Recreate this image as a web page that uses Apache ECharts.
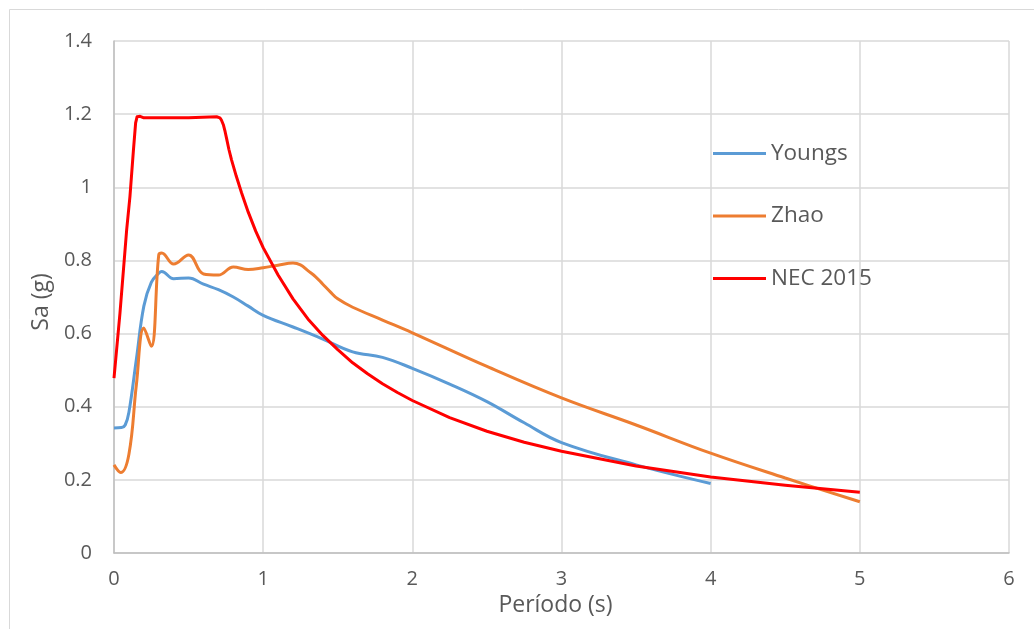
<!DOCTYPE html>
<html>
<head>
<meta charset="utf-8">
<script src="https://cdn.jsdelivr.net/npm/echarts@6/dist/echarts.min.js"></script>
<style>html,body{margin:0;padding:0;background:#fff}#c{width:1034px;height:629px}</style>
</head>
<body>
<div id="c"></div>
<script>
var xTicks = [0, 1, 2, 3, 4, 5, 6];
var yTicks = [0, 0.2, 0.4, 0.6, 0.8, 1, 1.2, 1.4];

var youngsT  = [0, 0.05, 0.075, 0.1, 0.15, 0.2, 0.25, 0.3, 0.32, 0.4, 0.5, 0.6, 0.7, 0.8, 0.9, 1.0, 1.2, 1.4, 1.6, 1.8, 2.0, 2.25, 2.5, 2.75, 3.0, 3.5, 4.0];
var youngsSa = [0.342, 0.343, 0.35, 0.385, 0.53, 0.675, 0.74, 0.765, 0.77, 0.75, 0.752, 0.735, 0.72, 0.70, 0.675, 0.65, 0.618, 0.585, 0.55, 0.535, 0.505, 0.462, 0.414, 0.356, 0.302, 0.241, 0.19];

var zhaoT  = [0, 0.045, 0.1, 0.15, 0.2, 0.25, 0.3, 0.32, 0.4, 0.5, 0.6, 0.7, 0.8, 0.9, 1.0, 1.1, 1.2, 1.25, 1.3, 1.35, 1.4, 1.45, 1.5, 1.6, 1.8, 2.0, 2.5, 3.0, 3.5, 4.0, 4.5, 5.0];
var zhaoSa = [0.241, 0.22, 0.27, 0.46, 0.615, 0.565, 0.815, 0.82, 0.79, 0.815, 0.763, 0.76, 0.782, 0.775, 0.78, 0.787, 0.793, 0.788, 0.772, 0.756, 0.735, 0.714, 0.695, 0.672, 0.637, 0.602, 0.51, 0.424, 0.35, 0.273, 0.205, 0.14];

var necT  = [0, 0.04, 0.085, 0.107, 0.13, 0.145, 0.155, 0.163, 0.175, 0.2, 0.3, 0.5, 0.688, 0.71, 0.72, 0.733, 0.745, 0.755, 0.77, 0.788, 0.82, 0.855, 0.9, 0.95, 1.0, 1.1, 1.2, 1.3, 1.4, 1.5, 1.6, 1.7, 1.8, 1.9, 2.0, 2.25, 2.5, 2.75, 3.0, 3.5, 4.0, 4.5, 5.0];
var necSa = [0.478, 0.656, 0.884, 0.975, 1.10, 1.176, 1.193, 1.198, 1.194, 1.19, 1.19, 1.19, 1.193, 1.19, 1.184, 1.171, 1.152, 1.133, 1.104, 1.075, 1.03, 0.985, 0.932, 0.88, 0.835, 0.76, 0.695, 0.64, 0.595, 0.556, 0.52, 0.49, 0.463, 0.439, 0.417, 0.37, 0.333, 0.303, 0.278, 0.238, 0.208, 0.185, 0.166];

function zip(a, b) { return a.map(function (v, i) { return [v, b[i]]; }); }

var font = '"Open Sans", Lato, sans-serif';
var chart = echarts.init(document.getElementById('c'), null, { renderer: 'canvas' });
chart.setOption({
  animation: false,
  backgroundColor: '#fff',
  graphic: [{
    type: 'rect', left: 7, top: 7, shape: { width: 1040, height: 640 },
    style: { fill: 'none', stroke: '#d9d9d9', lineWidth: 1 }, silent: true
  }],
  grid: { left: 114, top: 41, right: 25, bottom: 76, containLabel: false },
  legend: {
    orient: 'vertical', left: 713, top: 142, itemGap: 39.5, padding: 0,
    icon: 'rect', itemWidth: 53, itemHeight: 3,
    textStyle: { fontFamily: font, fontSize: 22.5, color: '#595959' },
    data: ['Youngs', 'Zhao', 'NEC 2015']
  },
  xAxis: {
    type: 'value', min: xTicks[0], max: xTicks[xTicks.length - 1], interval: 1,
    name: 'Período (s)', nameLocation: 'middle', nameGap: 37,
    nameTextStyle: { fontFamily: font, fontSize: 23, color: '#595959', padding: [0, 12, 0, 0] },
    axisLine: { show: true, lineStyle: { color: '#bfbfbf', width: 1.5 } },
    axisTick: { show: false },
    axisLabel: { fontFamily: font, fontSize: 20, color: '#595959', margin: 16 },
    splitLine: { show: true, lineStyle: { color: '#d9d9d9', width: 1.5 } }
  },
  yAxis: {
    type: 'value', min: yTicks[0], max: yTicks[yTicks.length - 1], interval: 0.2,
    name: 'Sa (g)', nameLocation: 'middle', nameGap: 60, nameRotate: 90,
    nameTextStyle: { fontFamily: font, fontSize: 23, color: '#595959', padding: [0, 10, 0, 0] },
    axisLine: { show: true, lineStyle: { color: '#bfbfbf', width: 1.5 } },
    axisTick: { show: false },
    axisLabel: { fontFamily: font, fontSize: 20, color: '#595959', margin: 22 },
    splitLine: { show: true, lineStyle: { color: '#d9d9d9', width: 1.5 } }
  },
  series: [
    { name: 'Youngs', type: 'line', data: zip(youngsT, youngsSa), smooth: 0.4, symbol: 'none',
      lineStyle: { color: '#5B9BD5', width: 3 }, itemStyle: { color: '#5B9BD5' } },
    { name: 'Zhao', type: 'line', data: zip(zhaoT, zhaoSa), smooth: 0.4, symbol: 'none',
      lineStyle: { color: '#ED7D31', width: 3 }, itemStyle: { color: '#ED7D31' } },
    { name: 'NEC 2015', type: 'line', data: zip(necT, necSa), smooth: false, symbol: 'none',
      lineStyle: { color: '#FF0000', width: 3, join: 'round' }, itemStyle: { color: '#FF0000' } }
  ]
});
</script>
</body>
</html>
